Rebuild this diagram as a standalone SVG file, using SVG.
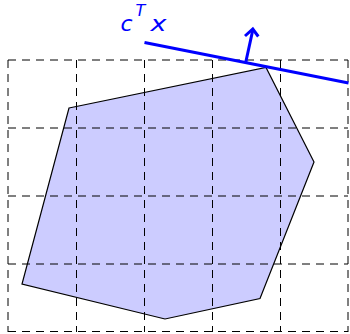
<svg xmlns="http://www.w3.org/2000/svg" width="350" height="334" viewBox="0 0 350 334">
<style>
.grid{stroke:#000;stroke-width:1;stroke-dasharray:8,6;fill:none}
.poly{fill:#ccccff;stroke:#000;stroke-width:1.2;stroke-linejoin:miter}
.obj{stroke:#0000ff;stroke-width:3;fill:none;stroke-linecap:butt}
.lbl{font-family:"DejaVu Sans",sans-serif;font-style:oblique;fill:#0000ff}
</style>
<g id="polytope">
<polygon class="poly" points="69,108 266,67.5 314,162 260,298.5 165,319 22,284"/>
</g>
<g id="grid">
<path class="grid" d="M8,60H348M8,128H348M8,196H348M8,264H348M8,331.5H348"/>
<path class="grid" d="M8,60V332M76.5,60V332M144.5,60V332M212.5,60V332M280.5,60V332M348,60V332"/>
</g>
<g id="connectors">
<line class="obj" x1="144.5" y1="42.5" x2="348.5" y2="83"/>
<line class="obj" x1="245.7" y1="62.5" x2="252.8" y2="30"/>
<polyline class="obj" stroke-width="2.5" points="245,36 252.8,29 258.3,36.5"/>
</g>
<g id="label">
<text class="lbl" x="120.5" y="30.5" font-size="22">c</text>
<text class="lbl" x="135.5" y="15.5" font-size="16">T</text>
<text class="lbl" x="150.5" y="30.5" font-size="22" textLength="16" lengthAdjust="spacingAndGlyphs">x</text>
</g>
</svg>
